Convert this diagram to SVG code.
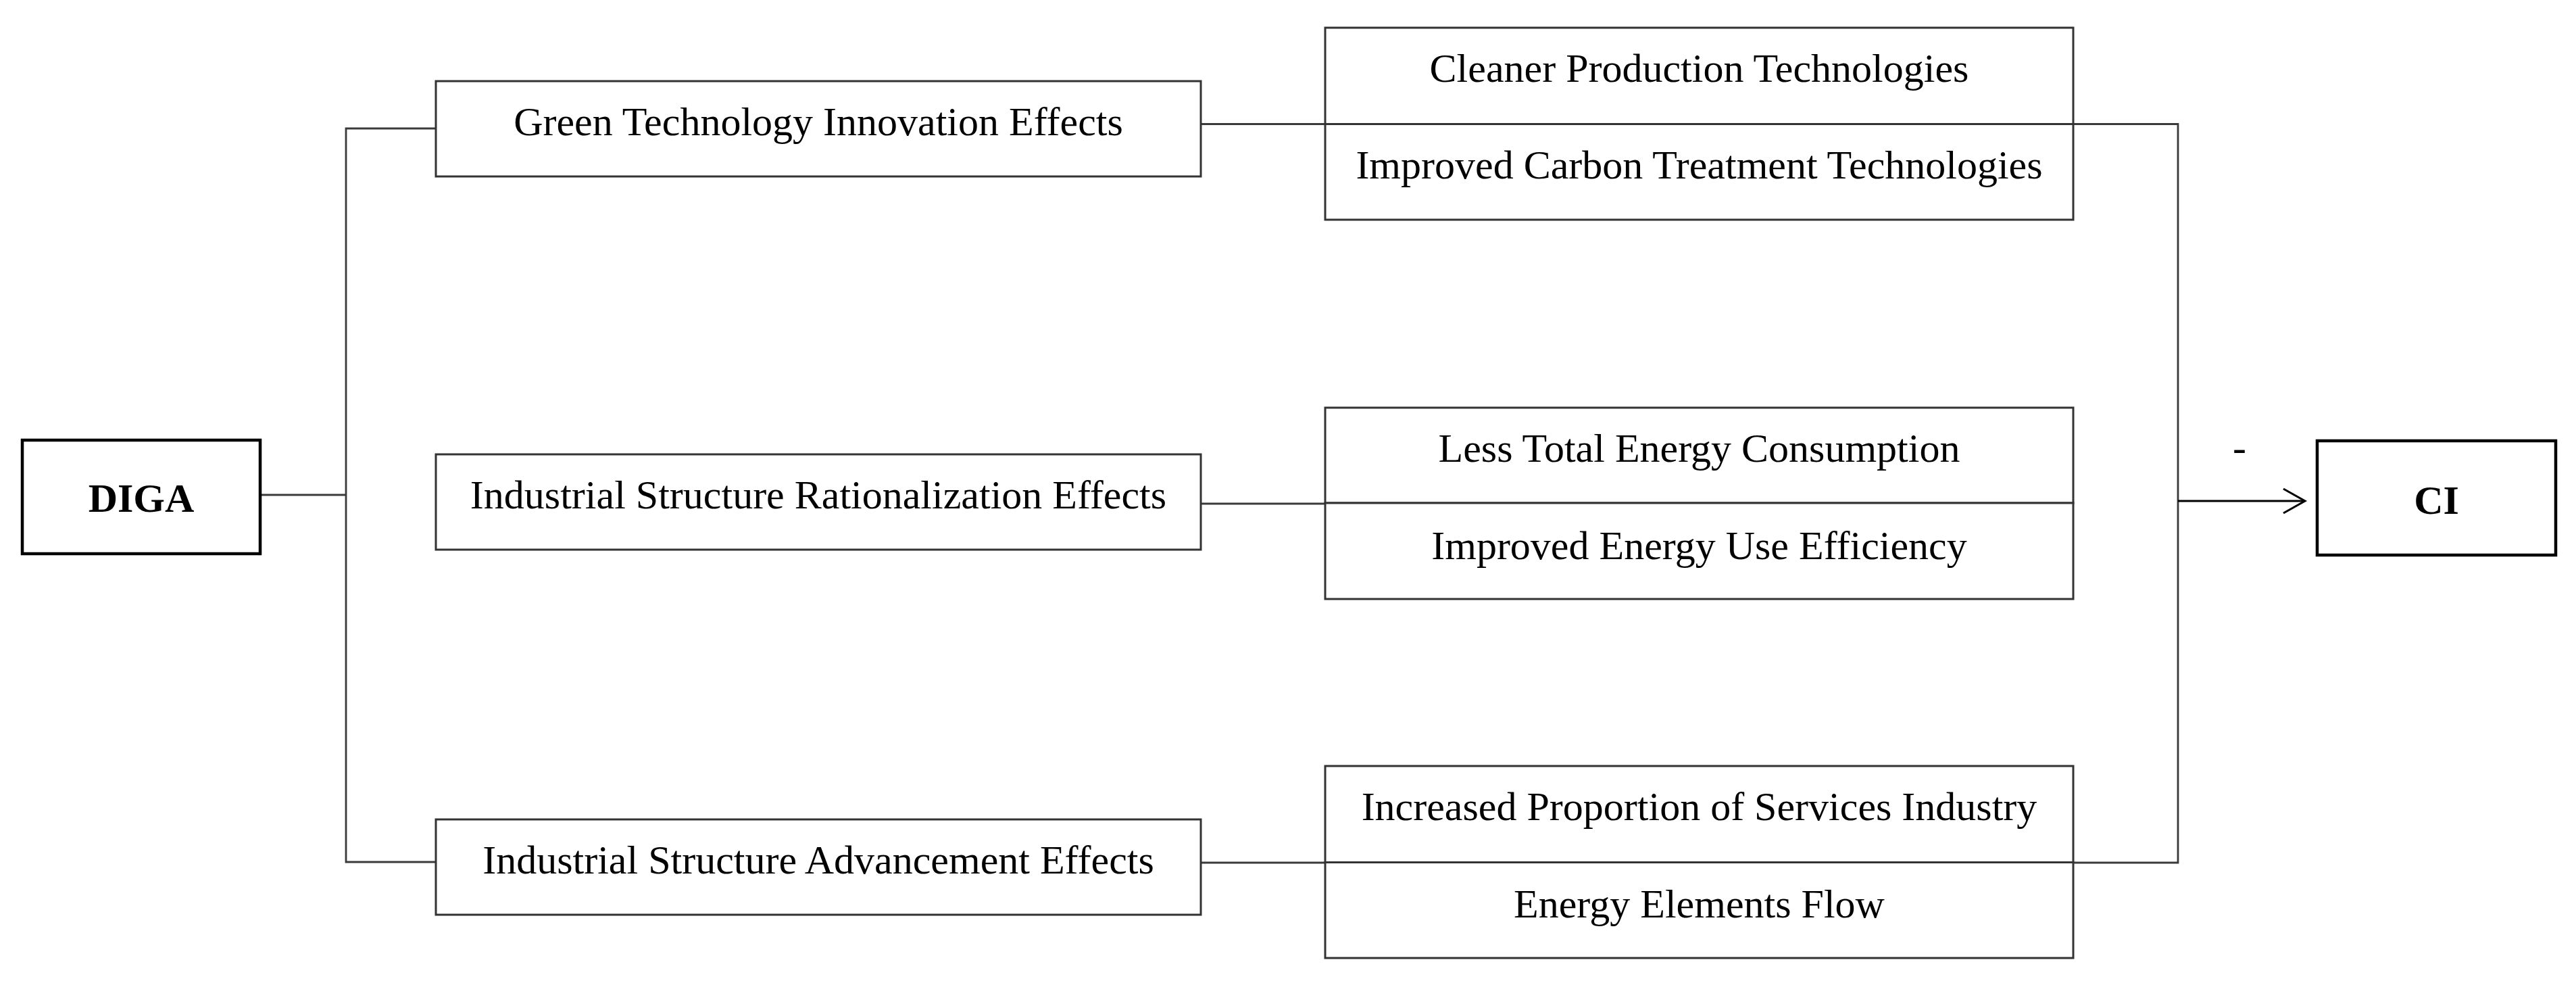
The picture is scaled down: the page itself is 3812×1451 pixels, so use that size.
<svg xmlns="http://www.w3.org/2000/svg" width="3812" height="1451" viewBox="0 0 3812 1451">
<style>
.bg{fill:#ffffff}
.box{fill:#ffffff;stroke:#333333;stroke-width:3}
.key{fill:#ffffff;stroke:#000000;stroke-width:4.5}
.lbl{font-family:"Liberation Serif","Times New Roman",serif;font-size:60px;fill:#000000;text-anchor:middle}
.bold{font-weight:bold}
.wire{fill:none;stroke:#3a3a3a;stroke-width:2.8}
.arrow{fill:none;stroke:#000000;stroke-width:3}
</style>
<defs>
<marker id="open" viewBox="0 0 40 40" refX="36" refY="20" markerWidth="40" markerHeight="40" markerUnits="userSpaceOnUse" orient="auto">
<path d="M4,2 L36,20 L4,38" fill="none" stroke="#000000" stroke-width="3"/>
</marker>
</defs>
<rect class="bg" x="0" y="0" width="3812" height="1451"/>

<g id="connectors">
<polyline class="wire" points="385,732 512,732"/>
<polyline class="wire" points="645,190 512,190 512,1275 645,1275"/>
<polyline class="wire" points="1777,183.5 1961,183.5"/>
<polyline class="wire" points="3068,183.5 3223,183.5 3223,1276 3068,1276"/>
<polyline class="wire" points="1777,745 1961,745"/>
<polyline class="wire" points="1777,1276 1961,1276"/>
<line class="arrow" x1="3223" y1="741" x2="3411" y2="741" marker-end="url(#open)"/>
<text class="lbl" x="3314" y="682">-</text>
</g>

<g id="DIGA">
<rect class="key" x="33" y="651" width="352" height="168"/>
<text class="lbl bold" x="209" y="757">DIGA</text>
</g>

<g id="green-tech">
<rect class="box" x="645" y="120" width="1132" height="141"/>
<text class="lbl" x="1211" y="200">Green Technology Innovation Effects</text>
</g>

<g id="rationalization">
<rect class="box" x="645" y="672" width="1132" height="141"/>
<text class="lbl" x="1211" y="752">Industrial Structure Rationalization Effects</text>
</g>

<g id="advancement">
<rect class="box" x="645" y="1212" width="1132" height="141"/>
<text class="lbl" x="1211" y="1292">Industrial Structure Advancement Effects</text>
</g>

<g id="cleaner-production">
<rect class="box" x="1961" y="41" width="1107" height="142.5"/>
<text class="lbl" x="2514.5" y="121">Cleaner Production Technologies</text>
</g>

<g id="carbon-treatment">
<rect class="box" x="1961" y="183.5" width="1107" height="141.5"/>
<text class="lbl" x="2514.5" y="264">Improved Carbon Treatment Technologies</text>
</g>

<g id="less-energy">
<rect class="box" x="1961" y="603" width="1107" height="141"/>
<text class="lbl" x="2514.5" y="683">Less Total Energy Consumption</text>
</g>

<g id="energy-efficiency">
<rect class="box" x="1961" y="744" width="1107" height="142"/>
<text class="lbl" x="2514.5" y="827">Improved Energy Use Efficiency</text>
</g>

<g id="services-industry">
<rect class="box" x="1961" y="1133" width="1107" height="142.5"/>
<text class="lbl" x="2514.5" y="1213">Increased Proportion of Services Industry</text>
</g>

<g id="energy-flow">
<rect class="box" x="1961" y="1275.5" width="1107" height="141.5"/>
<text class="lbl" x="2514.5" y="1357">Energy Elements Flow</text>
</g>

<g id="CI">
<rect class="key" x="3429" y="652" width="353" height="169"/>
<text class="lbl bold" x="3605.5" y="760">CI</text>
</g>
</svg>
